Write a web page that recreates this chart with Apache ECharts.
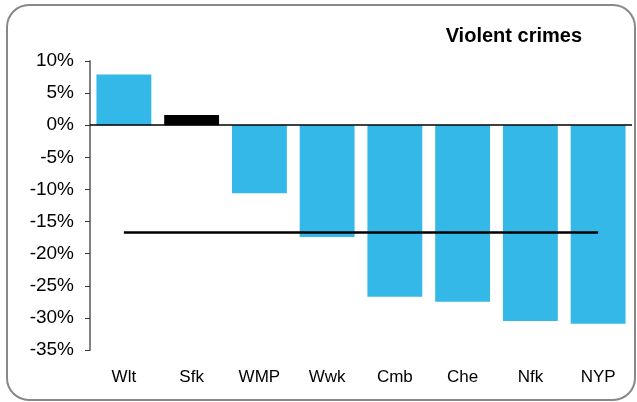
<!DOCTYPE html>
<html>
<head>
<meta charset="utf-8">
<script src="https://cdn.jsdelivr.net/npm/echarts@6/dist/echarts.min.js"></script>
<style>
    html, body { margin: 0; padding: 0; background: #fff; }
    #chart { width: 637px; height: 402px; }
</style>
</head>
<body>
<div id="chart"></div>
<script>
let areas = ['Wlt', 'Sfk', 'WMP', 'Wwk', 'Cmb', 'Che', 'Nfk', 'NYP'];
let changeValues = [7.9, 1.6, -10.6, -17.4, -26.7, -27.5, -30.5, -30.9];
let averageValue = [-16.7, -16.7, -16.7, -16.7, -16.7, -16.7, -16.7, -16.7];
let barColors = ['#33b8e8', '#000000', '#33b8e8', '#33b8e8', '#33b8e8', '#33b8e8', '#33b8e8', '#33b8e8'];

let barData = [];
for (let i = 0; i < changeValues.length; i++) {
    barData.push({ value: changeValues[i], itemStyle: { color: barColors[i] } });
}

let option = {
    animation: false,
    textStyle: { fontFamily: 'Liberation Sans, Arial, sans-serif' },
    title: {
        text: 'Violent crimes',
        right: 50,
        top: 21,
        textStyle: { fontSize: 20, fontWeight: 'bold', color: '#000' }
    },
    graphic: [
        {
            type: 'rect',
            shape: { x: 7, y: 5, width: 628, height: 395, r: 22 },
            style: { fill: 'none', stroke: '#888', lineWidth: 2 },
            silent: true
        }
    ],
    grid: { left: 90, right: 5, top: 61, bottom: 52 },
    xAxis: {
        type: 'category',
        data: areas,
        axisLine: { show: false, onZero: false },
        axisTick: { show: false },
        axisLabel: { color: '#000', fontSize: 17, margin: 19 }
    },
    yAxis: {
        type: 'value',
        min: -35,
        max: 10,
        interval: 5,
        splitLine: { show: false },
        axisLine: { show: true, lineStyle: { color: '#808080', width: 2 } },
        axisTick: { show: true, length: 5, lineStyle: { color: '#333' } },
        axisLabel: { color: '#000', fontSize: 19, margin: 16, formatter: '{value}%' }
    },
    series: [
        {
            name: 'Change',
            type: 'bar',
            barCategoryGap: '19%',
            data: barData,
            markLine: {
                silent: true,
                symbol: 'none',
                label: { show: false },
                lineStyle: { color: '#000', width: 1.5, type: 'solid' },
                data: [{ yAxis: 0 }]
            }
        },
        {
            name: 'Average',
            type: 'line',
            data: averageValue,
            showSymbol: false,
            symbol: 'none',
            lineStyle: { color: '#000', width: 2.5 },
            z: 5
        }
    ]
};

let chart = echarts.init(document.getElementById('chart'));
chart.setOption(option);
</script>
</body>
</html>
